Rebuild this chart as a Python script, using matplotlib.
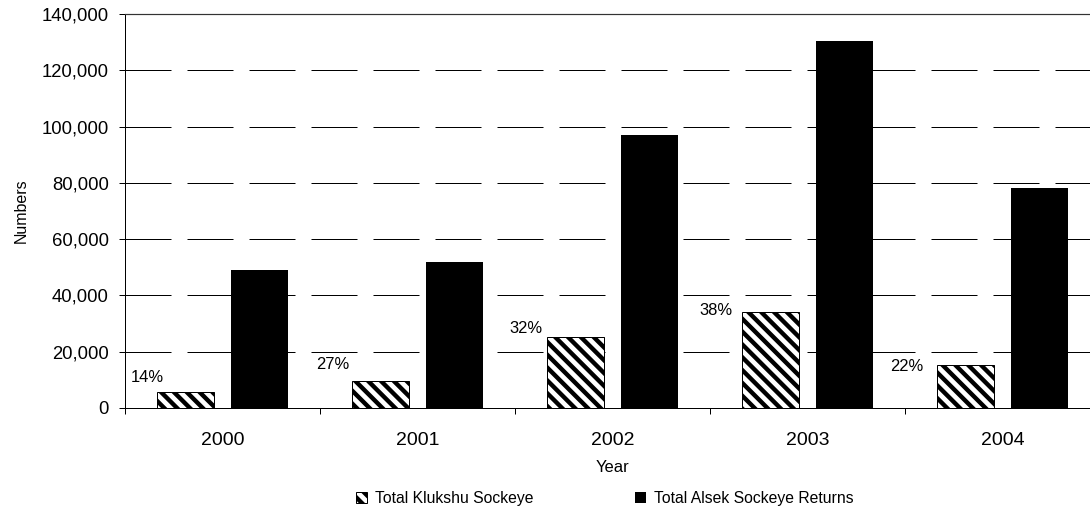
import matplotlib
matplotlib.use('Agg')
import matplotlib.pyplot as plt
import numpy as np
from matplotlib.ticker import FuncFormatter

# figure is rendered at 77 dpi so the hatch spacing comes out right
DPI = 77


def px(v):
    # pixel size -> points at this dpi
    return v * 72 / DPI


years = ['2000', '2001', '2002', '2003', '2004']
klukshu = [5700, 9600, 25200, 34100, 15300]
alsek = [49000, 51900, 97000, 130400, 78200]
pct_labels = ['14%', '27%', '32%', '38%', '22%']
# where the percentage labels sit (category units, numbers)
label_x = [-0.387, 0.567, 1.556, 2.531, 3.510]
label_y = [11000, 15300, 28400, 34500, 14900]

plt.rcParams['font.family'] = ['Liberation Sans', 'DejaVu Sans']
plt.rcParams['hatch.linewidth'] = px(4.4)

fig = plt.figure(figsize=(1090 / DPI, 509 / DPI), dpi=DPI)
ax = fig.add_axes([125 / 1090, 1 - 408 / 509, 975 / 1090, 394 / 509])

x = np.arange(len(years))
w = 0.292
b1 = ax.bar(x - 0.188, klukshu, w, color='white', edgecolor='black',
            hatch='\\\\', linewidth=px(1), label='Total Klukshu Sockeye')
b2 = ax.bar(x + 0.188, alsek, w, color='black', edgecolor='black',
            linewidth=0, label='Total Alsek Sockeye Returns')

for lx, ly, t in zip(label_x, label_y, pct_labels):
    ax.text(lx, ly, t, ha='center', va='center', fontsize=px(16.5))

ax.set_xlim(-0.5, 4.5)
ax.set_ylim(0, 140000)
ax.set_xticks(x)
ax.set_xticklabels(years)
ax.set_xticks(np.arange(-0.5, 5, 1), minor=True)
ax.tick_params(axis='x', which='major', length=0, pad=px(24), labelsize=px(19.5))
ax.tick_params(axis='x', which='minor', length=px(6), width=px(1), direction='out')
ax.set_yticks(np.arange(0, 140001, 20000))
ax.yaxis.set_major_formatter(FuncFormatter(lambda v, p: f'{int(v):,}'))
ax.tick_params(axis='y', length=px(6), width=px(1), pad=px(10), labelsize=px(18.5))

ax.set_axisbelow(True)
ax.yaxis.grid(True, color='black', linewidth=px(1), linestyle=(0, (46, 16)))

ax.spines['left'].set_linewidth(px(1))
ax.spines['bottom'].set_linewidth(px(1))
ax.spines['top'].set_color('#333333')
ax.spines['top'].set_linewidth(px(1.2))
ax.spines['right'].set_visible(False)

fig.text(21 / 1090, 1 - 211 / 509, 'Numbers', rotation=90, ha='center',
         va='center', fontsize=px(16))
fig.text(612 / 1090, 1 - 467 / 509, 'Year', ha='center', va='center',
         fontsize=px(16.5))

fig.legend([b1, b2], [b1.get_label(), b2.get_label()], loc='center',
           bbox_to_anchor=(605 / 1090, 1 - 498 / 509), ncol=2, frameon=False,
           fontsize=px(15.7), handlelength=0.7, handleheight=0.7,
           handletextpad=0.5, columnspacing=6.5, borderpad=0)

fig.savefig('out.png', dpi=DPI)
